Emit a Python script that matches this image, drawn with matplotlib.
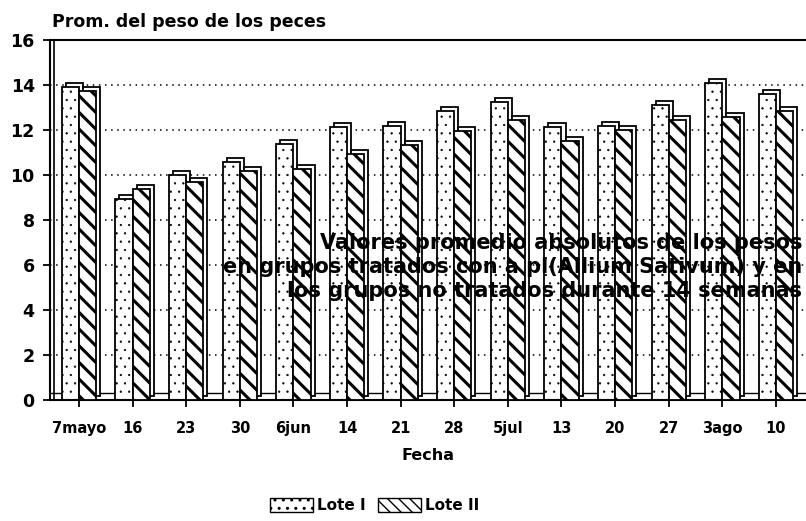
import numpy as np
import matplotlib
matplotlib.use("Agg")
from matplotlib import pyplot as plt
from matplotlib.patches import Patch

fechas = ["7mayo", "16", "23", "30", "6jun", "14", "21", "28",
          "5jul", "13", "20", "27", "3ago", "10"]
lote1 = [13.9, 8.95, 10.0, 10.6, 11.4, 12.15, 12.2, 12.85, 13.25, 12.15, 12.2, 13.1, 14.1, 13.6]
lote2 = [13.75, 9.4, 9.7, 10.2, 10.25, 10.95, 11.35, 11.95, 12.45, 11.5, 12.0, 12.45, 12.6, 12.85]
yticks = [0, 2, 4, 6, 8, 10, 12, 14, 16]

plt.rcParams["font.weight"] = "bold"

fig = plt.figure(figsize=(8.06, 5.21), dpi=100)
ax = fig.add_axes([0.062, 0.232, 0.938, 0.691])

x = np.arange(len(fechas))
w = 0.32
dx, dy = 0.075, 0.18   # depth of the fake 3d

# grid + floor
for yv in yticks[1:-1]:
    ax.axhline(yv, color="black", lw=1.1, ls=(0, (1, 3)), zorder=0)
ax.axhline(0.3, color="black", lw=1.0, zorder=0.5)

# back (depth) boxes first, then fronts
ax.bar(x - w / 2 + dx, lote1, w, bottom=dy, color="white", edgecolor="black", lw=1.3, zorder=1)
with plt.rc_context({"hatch.linewidth": 0.4}):
    b1 = ax.bar(x - w / 2, lote1, w, color="white", edgecolor="black", hatch="..", lw=1.3, zorder=2)
ax.bar(x + w / 2 + dx, lote2, w, bottom=dy, color="white", edgecolor="black", lw=1.3, zorder=3)
with plt.rc_context({"hatch.linewidth": 2.2}):
    b2 = ax.bar(x + w / 2, lote2, w, color="white", edgecolor="black", hatch="\\\\", lw=1.3, zorder=4)

ax.set_xlim(-0.54, 13.56)
ax.set_ylim(0, 16)
ax.set_yticks(yticks)
ax.set_yticklabels([str(v) for v in yticks], fontsize=12.5, fontweight="bold")
ax.set_xticks(x)
ax.set_xticklabels(fechas, fontsize=10.5, fontweight="bold")
ax.tick_params(axis="both", direction="out", length=5, width=1.3, color="black")
ax.tick_params(axis="x", pad=10)
ax.tick_params(axis="y", pad=6)

for s in ["left", "bottom", "top"]:
    ax.spines[s].set_linewidth(1.5)
ax.spines["right"].set_visible(False)
ax.axvline(-0.47, color="black", lw=1.2, zorder=5)

ax.set_xlabel("Fecha", fontsize=11.5, fontweight="bold", labelpad=9)
fig.text(0.064, 0.958, "Prom. del peso de los peces", fontsize=12.5, fontweight="bold",
         ha="left", va="center")

ax.text(0.995, 0.37, "Valores promedio absolutos de los pesos\n"
        "en grupos tratados con a pl(Allium Sativum) y en\n"
        "los grupos no tratados durante 14 semanas",
        transform=ax.transAxes, ha="right", va="center", multialignment="right",
        fontsize=15, fontweight="bold", linespacing=1.25, zorder=10)

with plt.rc_context({"hatch.linewidth": 0.4}):
    h1 = Patch(facecolor="white", edgecolor="black", hatch="..", lw=1.0, label="Lote I")
with plt.rc_context({"hatch.linewidth": 2.0}):
    h2 = Patch(facecolor="white", edgecolor="black", hatch="\\\\\\", lw=1.0, label="Lote II")
fig.legend(handles=[h1, h2], loc="center", bbox_to_anchor=(0.465, 0.03), ncol=2, frameon=False,
           handlelength=2.8, handleheight=1.1, handletextpad=0.3, columnspacing=0.8,
           prop={"weight": "bold", "size": 11})

fig.savefig("out.png", dpi=100)
